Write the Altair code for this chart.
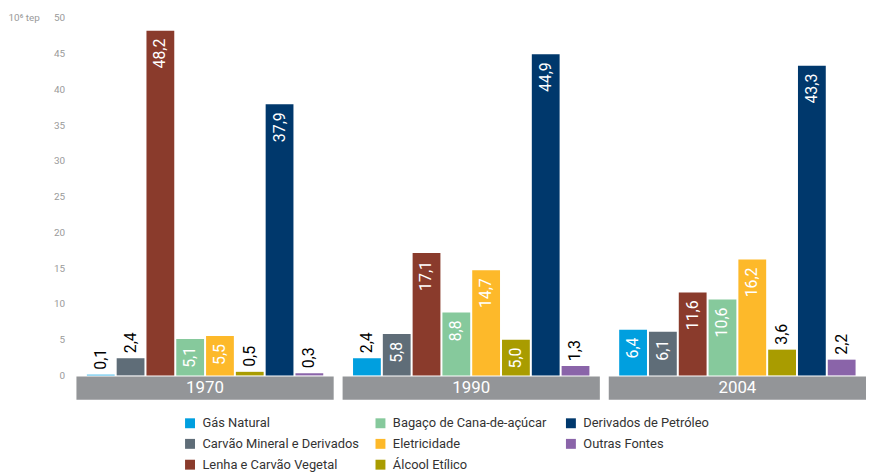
import altair as alt
import pandas as pd

years = ["1970", "1990", "2004"]
fontes = ["Gás Natural", "Carvão Mineral e Derivados", "Lenha e Carvão Vegetal",
          "Bagaço de Cana-de-açúcar", "Eletricidade", "Álcool Etílico",
          "Derivados de Petróleo", "Outras Fontes"]
v1970 = [0.1, 2.4, 48.2, 5.1, 5.5, 0.5, 37.9, 0.3]
v1990 = [2.4, 5.8, 17.1, 8.8, 14.7, 5.0, 44.9, 1.3]
v2004 = [6.4, 6.1, 11.6, 10.6, 16.2, 3.6, 43.3, 2.2]
cores = ["#009FDF", "#5F6D78", "#8A3B2C", "#86C99C", "#FDB92A", "#A99C00", "#00386C", "#8A64A9"]
y_ticks = [0, 5, 10, 15, 20, 25, 30, 35, 40, 45, 50]

rows = []
for y, vals in zip(years, [v1970, v1990, v2004]):
    for f, v in zip(fontes, vals):
        rows.append({"ano": y, "fonte": f, "valor": v,
                     "rotulo": f"{v:.1f}".replace(".", ",")})
df = pd.DataFrame(rows)

FONT = "Roboto"

xenc = alt.X("ano:N", axis=None, sort=years,
             scale=alt.Scale(paddingInner=0.0335, paddingOuter=0))
xoff = alt.XOffset("fonte:N", sort=fontes,
                   scale=alt.Scale(paddingInner=0.067, paddingOuter=0.35))
yscale = alt.Scale(domain=[-3.4, 50], nice=False, zero=False)
yaxis = alt.Axis(values=y_ticks, grid=False, domain=False,
                 ticks=False, labelFontSize=10, labelColor="#9a9a9a",
                 labelPadding=12, labelFont=FONT, labelOverlap=False,
                 title="10⁶ tep", titleAngle=0, titleAlign="left",
                 titleBaseline="middle", titleX=-69, titleY=0,
                 titleFontSize=10, titleFontWeight="normal",
                 titleColor="#9a9a9a", titleFont=FONT)

base = alt.Chart(df)

bars = base.mark_bar().encode(
    x=xenc,
    xOffset=xoff,
    y=alt.Y("valor:Q", scale=yscale, axis=yaxis),
    y2=alt.datum(0),
    color=alt.Color("fonte:N", scale=alt.Scale(domain=fontes, range=cores),
                    legend=alt.Legend(title=None, orient="none", legendX=108, legendY=402,
                                      columns=3, columnPadding=15, rowPadding=7,
                                      gridAlign="all",
                                      symbolType="square", symbolSize=100,
                                      symbolStrokeWidth=0, labelFontSize=13,
                                      labelFont=FONT, labelColor="#333333",
                                      labelOffset=6, labelLimit=400, padding=0)),
)

inside = base.transform_filter("datum.valor >= 5").mark_text(
    angle=270, align="right", baseline="middle", dx=-8, fontSize=16,
    color="white", font=FONT
).encode(x=xenc, xOffset=xoff, y=alt.Y("valor:Q", scale=yscale, axis=yaxis), text="rotulo:N")

above = base.transform_filter("datum.valor < 5").mark_text(
    angle=270, align="left", baseline="middle", dx=5, fontSize=16,
    color="black", font=FONT
).encode(x=xenc, xOffset=xoff, y=alt.Y("valor:Q", scale=yscale, axis=yaxis), text="rotulo:N")

yr = pd.DataFrame({"ano": years})
band = alt.Chart(yr).mark_rect(color="#939598").encode(
    x=xenc, y=alt.datum(-0.15, axis=yaxis), y2=alt.datum(-3.4))
yrtext = alt.Chart(yr).mark_text(color="white", fontSize=17, baseline="middle", font=FONT).encode(
    x=xenc, y=alt.datum(-1.8, axis=yaxis), text="ano:N")

chart = alt.layer(bars, inside, above, band, yrtext).properties(
    width=796, height=385,
    autosize=alt.AutoSizeParams(type="none"),
    padding={"left": 69, "top": 8, "right": 0, "bottom": 76},
).configure_view(stroke=None)

chart.save("out.html", embed_options={"renderer": "svg", "actions": False})
